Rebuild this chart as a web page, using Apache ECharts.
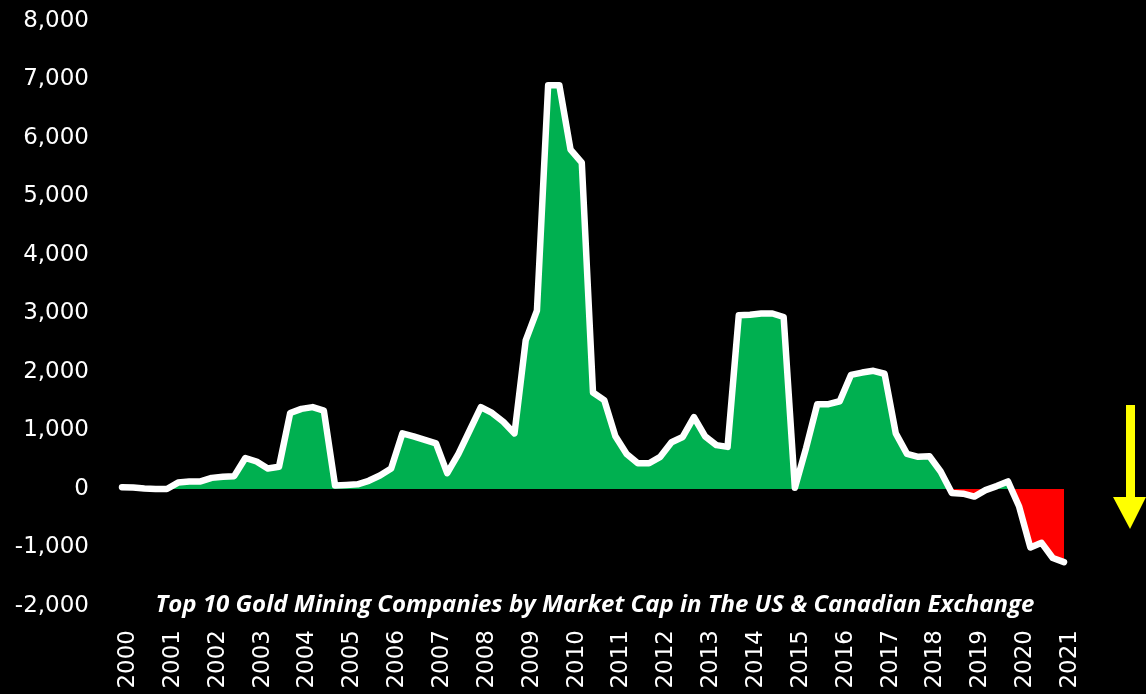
<!DOCTYPE html>
<html>
<head>
<meta charset="utf-8">
<script src="https://cdn.jsdelivr.net/npm/echarts@6/dist/echarts.min.js"></script>
<style>
html,body{margin:0;padding:0;background:#000;}
#chart{width:1146px;height:694px;}
</style>
</head>
<body>
<div id="chart"></div>
<script>
// Quarterly categories 2000 Q1 .. 2021 Q1
const years = ["2000","2001","2002","2003","2004","2005","2006","2007","2008","2009","2010","2011","2012","2013","2014","2015","2016","2017","2018","2019","2020","2021"];
const quarters = ["Q1","Q2","Q3","Q4"];
const categories = [];
years.forEach(function(y, yi){
  quarters.forEach(function(q, qi){
    if (yi < years.length - 1 || qi === 0) categories.push(y + " " + q);
  });
});
// Values (quarterly)
const values = [
  30, 25, 10, 0,            // 2000
  0, 110, 130, 130,         // 2001
  190, 210, 220, 530,       // 2002
  470, 350, 380, 1300,      // 2003
  1370, 1400, 1340, 60,     // 2004
  70, 80, 140, 230,         // 2005
  350, 950, 900, 840,       // 2006
  780, 270, 600, 1000,      // 2007
  1400, 1300, 1150, 950,    // 2008
  2540, 3050, 6900, 6900,   // 2009
  5800, 5580, 1650, 1520,   // 2010
  900, 600, 440, 440,       // 2011
  550, 800, 890, 1230,      // 2012
  900, 750, 720, 2970,      // 2013
  2980, 3000, 3000, 2940,   // 2014
  20, 700, 1450, 1450,      // 2015
  1500, 1950, 1990, 2020,   // 2016
  1970, 950, 600, 550,      // 2017
  560, 300, -70, -80,       // 2018
  -130, -20, 50, 130,       // 2019
  -300, -1000, -920, -1180, // 2020
  -1250                     // 2021
];
const yTicks = [-2000, -1000, 0, 1000, 2000, 3000, 4000, 5000, 6000, 7000, 8000];
const titleText = "Top 10 Gold Mining Companies by Market Cap in The US & Canadian Exchange";

const GREEN = '#00B050', RED = '#FF0000';
const chart = echarts.init(document.getElementById('chart'), null, {renderer: 'canvas'});
const option = {
  backgroundColor: '#000000',
  animation: false,
  title: {
    text: titleText,
    left: 590,
    top: 588,
    textAlign: 'center',
    textStyle: {
      color: '#ffffff',
      fontFamily: 'Open Sans',
      fontStyle: 'italic',
      fontWeight: 'bold',
      fontSize: 24
    }
  },
  grid: { left: 122, right: 82, top: 21, bottom: 88, containLabel: false },
  xAxis: {
    type: 'category',
    data: categories,
    boundaryGap: false,
    axisLine: { show: false },
    axisTick: { show: false },
    splitLine: { show: false },
    axisLabel: {
      rotate: 90,
      margin: 24,
      verticalAlign: 'top',
      lineHeight: 12,
      color: '#ffffff',
      fontFamily: 'DejaVu Sans',
      fontSize: 23,
      interval: function(i){ return i % 4 === 0; },
      formatter: function(v){ return v.split(' ')[0]; }
    }
  },
  yAxis: {
    type: 'value',
    min: yTicks[0],
    max: yTicks[yTicks.length - 1],
    interval: 1000,
    axisLine: { show: false },
    axisTick: { show: false },
    splitLine: { show: false },
    axisLabel: {
      margin: 33,
      color: '#ffffff',
      fontFamily: 'DejaVu Sans',
      fontSize: 23,
      formatter: function(v){ return v.toLocaleString('en-US'); }
    }
  },
  series: [
    {
      type: 'line',
      data: values,
      symbol: 'none',
      lineStyle: { width: 0 },
      areaStyle: { opacity: 1, color: GREEN },
      z: 2
    },
    {
      type: 'line',
      data: values,
      symbol: 'none',
      lineStyle: { color: '#ffffff', width: 6.5, join: 'round', cap: 'round' },
      itemStyle: { color: '#ffffff' },
      z: 3
    }
  ],
  graphic: [
    {
      type: 'rect',
      shape: { x: 1126, y: 405, width: 9, height: 94 },
      style: { fill: '#FFFF00' }
    },
    {
      type: 'polygon',
      shape: { points: [[1113, 497], [1146, 497], [1130, 529]] },
      style: { fill: '#FFFF00' }
    }
  ]
};
chart.setOption(option);
// Split fill colour at the zero line, located through the chart's own y scale
const y0 = chart.convertToPixel({ yAxisIndex: 0 }, 0);
const H = chart.getHeight();
const f = y0 / H;
chart.setOption({
  series: [{
    areaStyle: {
      opacity: 1,
      color: new echarts.graphic.LinearGradient(0, 0, 0, H, [
        { offset: 0, color: GREEN },
        { offset: f, color: GREEN },
        { offset: f, color: RED },
        { offset: 1, color: RED }
      ], true)
    }
  }, {}]
});
</script>
</body>
</html>
